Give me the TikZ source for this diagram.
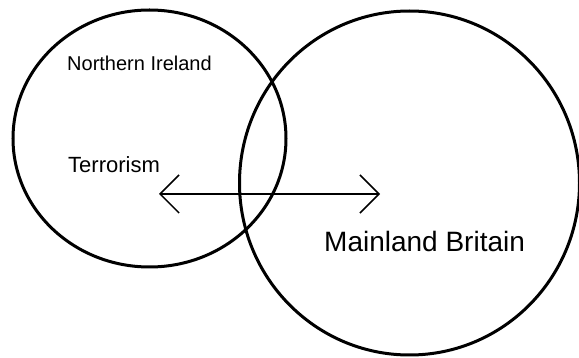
\documentclass[tikz,border=0pt]{standalone}
\usepackage{fontspec}
\setmainfont{Liberation Sans}
\usetikzlibrary{arrows.meta,shapes.geometric}
\begin{document}
\begin{tikzpicture}[x=1pt,y=-1pt,
  ring/.style={draw, ellipse, line width=3pt, inner sep=0pt},
  lbl/.style={inner sep=0pt, anchor=base west},
  barb/.tip={Straight Barb[length=19pt,width=38pt]}]
\useasboundingbox (0,0) rectangle (579,358);
\node[ring, minimum width=273pt, minimum height=257pt] (ni) at (149.5,138.5) {};
\node[ring, minimum width=340pt, minimum height=344pt] (mb) at (409.5,183) {};
\node[lbl, font=\fontsize{20}{24}\selectfont] (nilabel) at (67,71) {Northern Ireland};
\node[lbl, font=\fontsize{22}{26}\selectfont] (terr) at (68,173) {Terrorism};
\node[lbl, font=\fontsize{28}{32}\selectfont] (mblabel) at (324,252) {Mainland Britain};
\coordinate (a) at (159,194);
\coordinate (b) at (380,194);
\draw[line width=1.5pt, barb-barb] (a) -- (b);
\end{tikzpicture}
\end{document}
